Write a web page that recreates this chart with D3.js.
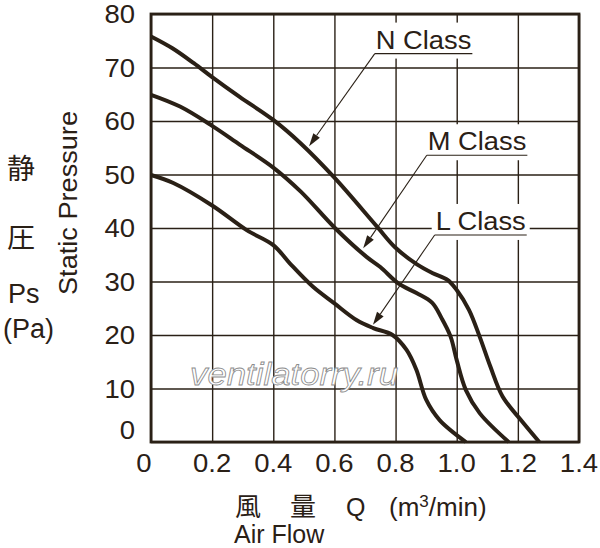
<!DOCTYPE html>
<html><head><meta charset="utf-8">
<script src="https://cdn.jsdelivr.net/npm/d3@7"></script>
<style>body{margin:0;background:#fff}svg{display:block}</style>
</head><body>
<svg id="c" width="600" height="548"></svg>
<script>
// ---- data ----
const xTicks = [0, 0.2, 0.4, 0.6, 0.8, 1.0, 1.2, 1.4];
const xTickLabels = ["0", "0.2", "0.4", "0.6", "0.8", "1.0", "1.2", "1.4"];
const yTicks = [0, 10, 20, 30, 40, 50, 60, 70, 80];
const seriesNames = ["N Class", "M Class", "L Class"];
const nClass = [[0,75.8],[0.07,73.6],[0.14,70.8],[0.2,68.2],[0.29,64.5],[0.4,60.2],[0.49,55.8],[0.6,49.4],[0.74,40.2],[0.8,36.3],[0.87,33.2],[0.92,31.6],[0.97,30.3],[1.0,28.4],[1.04,24.7],[1.075,19.7],[1.11,14.1],[1.15,8.5],[1.21,4.1],[1.27,0]];
const mClass = [[0,64.9],[0.095,62.7],[0.2,59.1],[0.29,55.6],[0.4,51.3],[0.49,46.8],[0.6,40.1],[0.705,34.6],[0.75,32.7],[0.81,29.6],[0.87,27.8],[0.92,26.0],[0.95,23.2],[0.98,19.7],[1.0,15.3],[1.03,9.7],[1.075,5.4],[1.17,0]];
const lClass = [[0,49.9],[0.073,48.4],[0.2,44.2],[0.313,39.6],[0.4,36.8],[0.454,33.4],[0.53,29.0],[0.6,25.9],[0.672,22.8],[0.727,21.3],[0.79,20.0],[0.836,17.2],[0.868,13.5],[0.9,7.9],[0.944,4.1],[1.03,0]];
// annotation: label anchor (start of underline) and arrow tip, in data units
const annLabelAt = [[0.732,72.6],[0.902,53.6],[0.928,38.7]];
const annTipAt = [[0.517,55.3],[0.694,36.2],[0.726,21.9]];

// ---- drawing ----
const ink = "#2a2016";
const svg = d3.select("#c");
const x = d3.scaleLinear().domain([0, 1.4]).range([151, 579]);
const y = d3.scaleLinear().domain([0, 80]).range([442, 14]);

function stretch(sel, k) {
  sel.each(function () {
    const w = this.getComputedTextLength();
    this.setAttribute("textLength", w * k);
    this.setAttribute("lengthAdjust", "spacingAndGlyphs");
  });
  return sel;
}
const font = "'Liberation Sans', Arial, Helvetica, sans-serif";
const cjk = "'Noto Sans CJK JP', sans-serif";

// grid
const g = svg.append("g");
g.append("g").attr("transform", "translate(0,442)")
  .call(d3.axisBottom(x).tickValues(xTicks).tickSize(-428).tickFormat(""))
  .call(a => { a.select(".domain").remove(); a.selectAll("text").remove(); a.selectAll("line").attr("stroke", ink).attr("stroke-width", 1.4); });
g.append("g").attr("transform", "translate(151,0)")
  .call(d3.axisLeft(y).tickValues(yTicks).tickSize(-428).tickFormat(""))
  .call(a => { a.select(".domain").remove(); a.selectAll("text").remove(); a.selectAll("line").attr("stroke", ink).attr("stroke-width", 1.4); });

// watermark
svg.append("text").attr("x", 190).attr("y", 385)
  .attr("font-family", font).attr("font-style", "italic").attr("font-size", 31)
  .attr("fill", "#fff").attr("stroke", "#8c8c8c").attr("stroke-width", 0.8)
  .attr("textLength", 208).attr("lengthAdjust", "spacingAndGlyphs")
  .text("ventilatorry.ru");

// curves
const line = d3.line().x(d => x(d[0])).y(d => y(d[1])).curve(d3.curveCatmullRom.alpha(0.5));
[nClass, mClass, lClass].forEach(s => {
  svg.append("path").attr("d", line(s)).attr("fill", "none")
    .attr("stroke", ink).attr("stroke-width", 4).attr("stroke-linejoin", "round");
});

// frame
svg.append("rect").attr("x", x(0)).attr("y", y(80)).attr("width", x(1.4) - x(0)).attr("height", y(0) - y(80))
  .attr("fill", "none").attr("stroke", ink).attr("stroke-width", 2.8);

// annotations
seriesNames.forEach((name, i) => {
  const lx = x(annLabelAt[i][0]), ly = y(annLabelAt[i][1]);
  const tx = x(annTipAt[i][0]), ty = y(annTipAt[i][1]);
  const grp = svg.append("g");
  const box = grp.append("rect").attr("fill", "#fff");
  const t = grp.append("text").attr("x", lx + 1).attr("y", ly - 5)
    .attr("font-family", font).attr("font-size", 26).attr("fill", ink).text(name);
  stretch(t, 1.05);
  const bb = t.node().getBBox();
  box.attr("x", bb.x - 4).attr("y", bb.y - 2).attr("width", bb.width + 8).attr("height", bb.height + 6);
  const uEnd = bb.x + bb.width + 1;
  grp.append("line").attr("x1", lx).attr("x2", uEnd).attr("y1", ly).attr("y2", ly).attr("stroke", ink).attr("stroke-width", 1.1);
  // leader
  const ang = Math.atan2(ty - ly, tx - lx);
  const L = 13, W = 4;
  const bx = tx - L * Math.cos(ang), by = ty - L * Math.sin(ang);
  grp.append("line").attr("x1", lx).attr("y1", ly).attr("x2", bx).attr("y2", by).attr("stroke", ink).attr("stroke-width", 1.1);
  const px = -Math.sin(ang) * W, py = Math.cos(ang) * W;
  grp.append("path").attr("d", `M${tx},${ty}L${bx + px},${by + py}L${bx - px},${by - py}Z`).attr("fill", ink);
});

// tick labels
const yl = svg.append("g").selectAll("text").data(yTicks).join("text")
  .attr("x", 135).attr("y", d => d === 0 ? y(0) - 12 + 9 : y(d) + 9)
  .attr("text-anchor", "end").attr("font-family", font).attr("font-size", 25).attr("fill", ink)
  .text(d => d);
stretch(yl, 1.1);
const xl = svg.append("g").selectAll("text").data(xTicks).join("text")
  .attr("x", (d, i) => i === 0 ? x(d) - 7 : x(d)).attr("y", 472)
  .attr("text-anchor", "middle").attr("font-family", font).attr("font-size", 25).attr("fill", ink)
  .text((d, i) => xTickLabels[i]);
stretch(xl, 1.1);

// axis titles (left)
const lt = [["静", 21, 179, cjk, 28], ["圧", 21, 248, cjk, 28]];
lt.forEach(d => svg.append("text").attr("x", d[1]).attr("y", d[2]).attr("text-anchor", "middle")
  .attr("font-family", d[3]).attr("font-size", d[4]).attr("fill", ink).text(d[0]));
svg.append("text").attr("x", 8).attr("y", 303).attr("font-family", font).attr("font-size", 27).attr("fill", ink).text("Ps");
svg.append("text").attr("x", 3).attr("y", 338).attr("font-family", font).attr("font-size", 27).attr("fill", ink).text("(Pa)");
const sp = svg.append("text").attr("transform", "translate(77,295) rotate(-90)")
  .attr("font-family", font).attr("font-size", 26).attr("fill", ink).text("Static Pressure");
sp.attr("textLength", 184).attr("lengthAdjust", "spacingAndGlyphs");

// axis titles (bottom)
svg.append("text").attr("x", 235).attr("y", 516).attr("font-family", cjk).attr("font-size", 26).attr("fill", ink).text("風");
svg.append("text").attr("x", 290).attr("y", 516).attr("font-family", cjk).attr("font-size", 26).attr("fill", ink).text("量");
svg.append("text").attr("x", 346).attr("y", 516).attr("font-family", font).attr("font-size", 25).attr("fill", ink).text("Q");
const unit = svg.append("text").attr("x", 389).attr("y", 516).attr("font-family", font).attr("font-size", 26).attr("fill", ink);
unit.append("tspan").text("(m");
unit.append("tspan").attr("font-size", 17).attr("dy", -9).text("3");
unit.append("tspan").attr("dy", 9).text("/min)");
svg.append("text").attr("x", 234).attr("y", 543).attr("font-family", font).attr("font-size", 25).attr("fill", ink).text("Air Flow");
</script>
</body></html>
